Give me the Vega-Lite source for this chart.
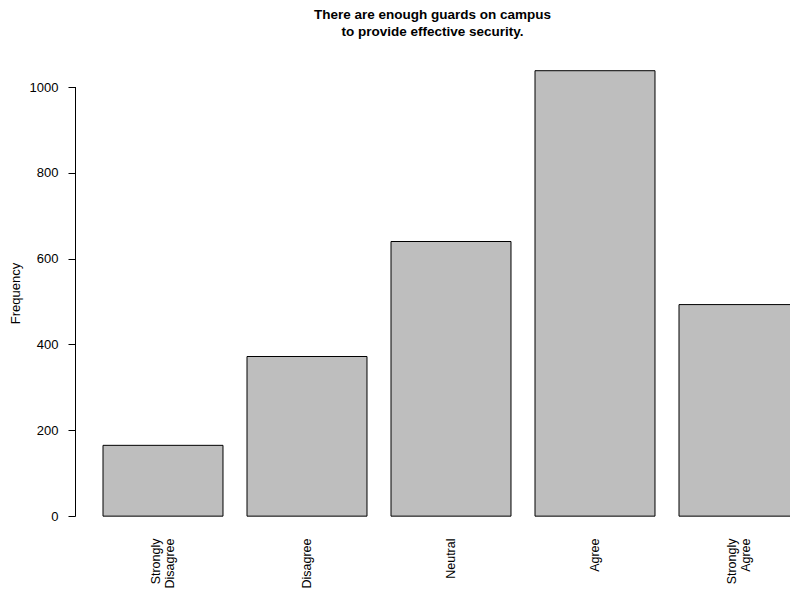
{
  "$schema": "https://vega.github.io/schema/vega-lite/v6.json",
  "autosize": {"type": "none"},
  "width": 715,
  "height": 482,
  "padding": {"left": 75, "top": 52, "right": 0, "bottom": 55},
  "background": "white",
  "config": {
    "view": {"stroke": null},
    "font": "Liberation Sans",
    "axis": {"labelFont": "Liberation Sans", "titleFont": "Liberation Sans", "labelColor": "black", "titleColor": "black", "grid": false}
  },
  "title": {
    "text": ["There are enough guards on campus", "to provide effective security."],
    "font": "Liberation Sans",
    "fontSize": 13.5,
    "fontWeight": "bold",
    "lineHeight": 17,
    "anchor": "middle",
    "frame": "group",
    "offset": 14,
    "color": "black"
  },
  "data": {
    "values": [
      {"response": "Strongly\nDisagree", "count": 165},
      {"response": "Disagree", "count": 372},
      {"response": "Neutral", "count": 640},
      {"response": "Agree", "count": 1038},
      {"response": "Strongly\nAgree", "count": 493}
    ]
  },
  "layer": [
    {
      "mark": {"type": "bar", "fill": "#bebebe", "stroke": "black", "strokeWidth": 1, "clip": true},
      "encoding": {
        "x": {
          "field": "response",
          "type": "nominal",
          "sort": null,
          "scale": {"range": [28, 724], "paddingInner": 0.1667, "paddingOuter": 0},
          "axis": {
            "title": null,
            "domain": false,
            "ticks": false,
            "labelAngle": 270,
            "labelPadding": 4,
            "labelFontSize": 12.5,
            "labelLineHeight": 14,
            "labelExpr": "split(datum.label, '\\n')",
            "labelOffset": {"condition": {"test": "indexof(datum.label, '\\n') >= 0", "value": -7}, "value": 0},
            "labelOverlap": false,
            "labelLimit": 0
          }
        },
        "y": {
          "field": "count",
          "type": "quantitative",
          "scale": {"domain": [-41.6, 1081.6], "nice": false, "zero": false},
          "axis": {
            "title": "Frequency",
            "values": [0, 200, 400, 600, 800, 1000],
            "format": "d",
            "domain": false,
            "tickSize": 7,
            "tickColor": "black",
            "labelPadding": 10,
            "labelFontSize": 13,
            "labelAngle": 0,
            "titleFontSize": 13,
            "titleFontWeight": "normal",
            "titleAngle": 270,
            "titleX": -60,
            "titleY": 241,
            "titleAlign": "center",
            "titleBaseline": "middle"
          }
        }
      }
    },
    {
      "mark": {"type": "rule", "color": "black", "strokeWidth": 1},
      "encoding": {
        "x": {"value": 0.5},
        "y": {"datum": 0, "type": "quantitative"},
        "y2": {"datum": 1000}
      }
    }
  ]
}
